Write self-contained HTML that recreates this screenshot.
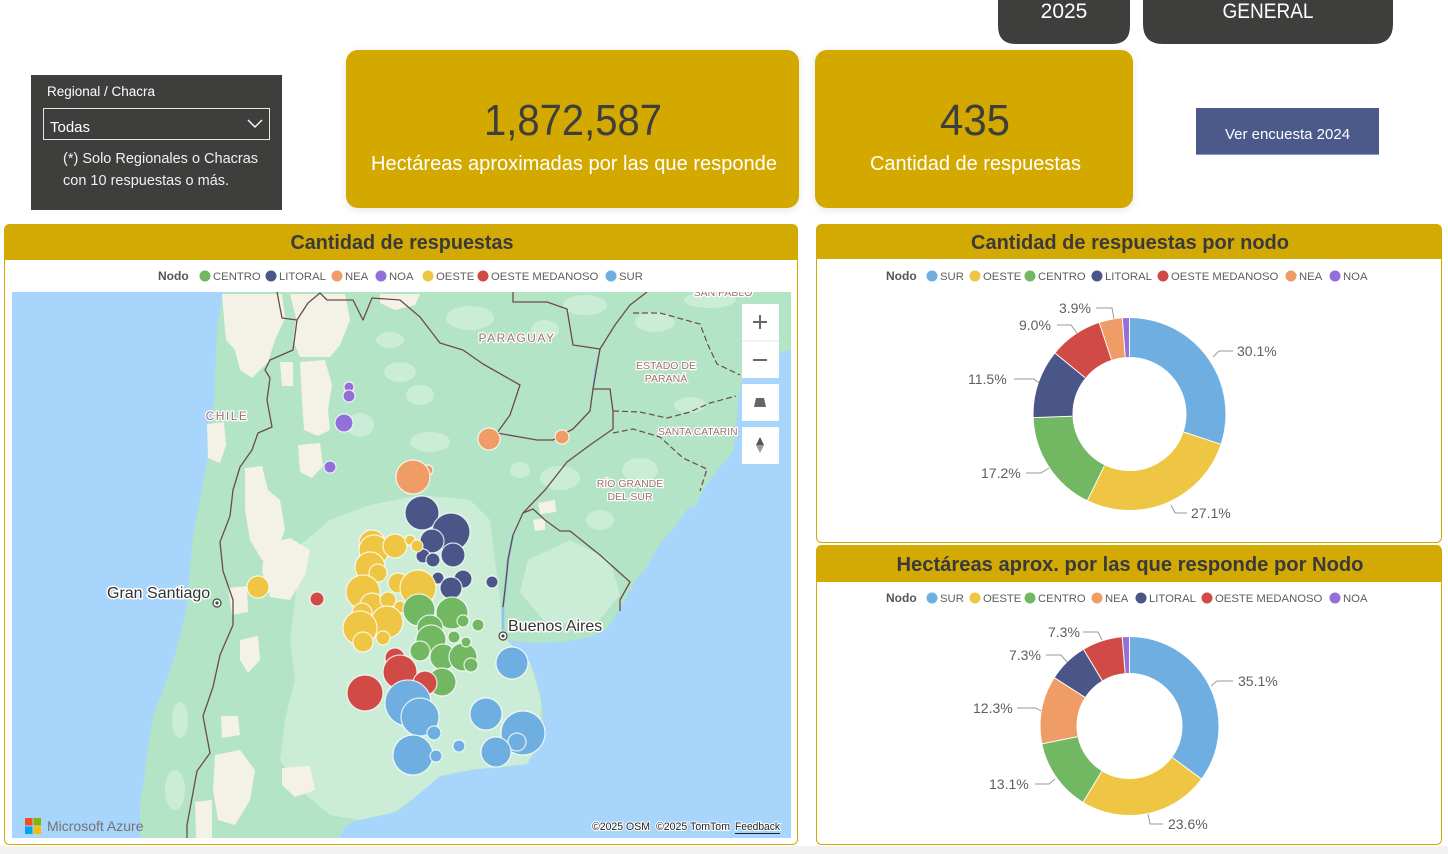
<!DOCTYPE html>
<html><head><meta charset="utf-8"><style>
html,body{margin:0;padding:0;background:#fff;width:1448px;height:854px;overflow:hidden}
svg{display:block}
text{font-family:"Liberation Sans",Arial,sans-serif}
</style></head><body>
<svg width="1448" height="854" viewBox="0 0 1448 854" xmlns="http://www.w3.org/2000/svg">
<defs>
<filter id="sh" x="-10%" y="-10%" width="120%" height="130%"><feDropShadow dx="0" dy="2" stdDeviation="4" flood-color="#000" flood-opacity="0.10"/></filter>
<clipPath id="mc"><rect x="12" y="292" width="779" height="546"/></clipPath>
</defs>
<rect width="1448" height="854" fill="#fff"/>
<rect x="0" y="846" width="1448" height="8" fill="#f2f2f2"/>

<!-- top buttons -->
<path d="M998,0 H1130 V26 Q1130,44 1112,44 H1016 Q998,44 998,26 Z" fill="#3E3E3D"/>
<text x="1064" y="18" font-size="21" fill="#fff" text-anchor="middle">2025</text>
<path d="M1143,0 H1393 V24 Q1393,44 1373,44 H1163 Q1143,44 1143,24 Z" fill="#3E3E3D"/>
<text x="1268" y="18" font-size="21" fill="#fff" text-anchor="middle" textLength="91" lengthAdjust="spacingAndGlyphs">GENERAL</text>

<!-- slicer -->
<rect x="31" y="75" width="251" height="135" fill="#3E3E3D"/>
<text x="47" y="96" font-size="13.5" fill="#fff">Regional / Chacra</text>
<rect x="43.5" y="108.5" width="226" height="31" fill="none" stroke="#e6e6e6" stroke-width="1"/>
<text x="50" y="132" font-size="15" fill="#fff">Todas</text>
<polyline points="248,120 255,127 262,120" fill="none" stroke="#fff" stroke-width="1.4"/>
<text x="63" y="163" font-size="14.5" fill="#f0f0f0">(*) Solo Regionales o Chacras</text>
<text x="63" y="185" font-size="14.5" fill="#f0f0f0">con 10 respuestas o más.</text>

<!-- cards -->
<rect x="346" y="50" width="453" height="158" rx="12" fill="#D3A904" filter="url(#sh)"/>
<text x="484" y="135" font-size="44" fill="#3E3E3D" textLength="178" lengthAdjust="spacingAndGlyphs">1,872,587</text>
<text x="371" y="170" font-size="20" fill="#fff" textLength="406" lengthAdjust="spacingAndGlyphs">Hectáreas aproximadas por las que responde</text>
<rect x="815" y="50" width="318" height="158" rx="12" fill="#D3A904" filter="url(#sh)"/>
<text x="940" y="135" font-size="44" fill="#3E3E3D" textLength="70" lengthAdjust="spacingAndGlyphs">435</text>
<text x="870" y="170" font-size="20" fill="#fff" textLength="211" lengthAdjust="spacingAndGlyphs">Cantidad de respuestas</text>

<!-- button -->
<rect x="1196" y="108" width="183" height="47" fill="#4B5A8B"/>
<line x1="1196" y1="154.5" x2="1379" y2="154.5" stroke="#8d98c2" stroke-width="1"/>
<text x="1287.5" y="139" font-size="15" fill="#fff" text-anchor="middle">Ver encuesta 2024</text>

<!-- ============ MAP PANEL ============ -->
<rect x="4.5" y="224.5" width="793" height="620" rx="5" fill="#fff" stroke="#D3A904" stroke-width="1"/>
<path d="M4.5,230 Q4.5,224.5 10,224.5 H792 Q797.5,224.5 797.5,230 V260 H4.5 Z" fill="#D3A904"/>
<text x="402" y="249" font-size="20" font-weight="bold" fill="#3A3A3A" text-anchor="middle" textLength="223" lengthAdjust="spacingAndGlyphs">Cantidad de respuestas</text>
<g font-size="11.3" fill="#605E5C">
<text x="158" y="280" font-weight="bold" font-size="12" fill="#555">Nodo</text>
<circle cx="205" cy="276" r="5.5" fill="#72B762"/><text x="213" y="280">CENTRO</text>
<circle cx="271" cy="276" r="5.5" fill="#4A5688"/><text x="279" y="280">LITORAL</text>
<circle cx="337" cy="276" r="5.5" fill="#F09C67"/><text x="345" y="280">NEA</text>
<circle cx="381" cy="276" r="5.5" fill="#9370D9"/><text x="389" y="280">NOA</text>
<circle cx="428" cy="276" r="5.5" fill="#EEC643"/><text x="436" y="280">OESTE</text>
<circle cx="483" cy="276" r="5.5" fill="#D04B45"/><text x="491" y="280">OESTE MEDANOSO</text>
<circle cx="611" cy="276" r="5.5" fill="#6FAEE0"/><text x="619" y="280">SUR</text>
</g>

<g clip-path="url(#mc)">
<rect x="12" y="292" width="779" height="546" fill="#A8D5FB"/>
<!-- land -->
<path fill="#B3E4C5" d="M223,292 L791,292 L791,349 L770,358 L752,370 L742,380 L738,400 L736,430 L733,452 L722,465 L713,476 L703,490 L693,512 L680,525 L667,535 L655,552 L647,567 L636,580 L630,590 L622,605 L615,617 L607,629 L590,637 L565,642 L535,643 L512,641 L503,639 L510,646 L520,652 L528,660 L533,670 L537,682 L541,697 L543,716 L541,735 L536,752 L527,764 L505,767 L480,769 L455,771 L440,775 L428,785 L415,797 L400,810 L380,816 L358,820 L345,826 L340,838 L140,838 L140,807 L144,780 L147,753 L150,735 L153,716 L163,690 L173,662 L180,635 L187,607 L190,570 L193,535 L200,498 L207,462 L213,425 L215,380 L217,330 L220,310 Z"/>
<!-- lighter pampas -->
<path fill="#CBEDD7" d="M300,545 L330,520 L370,505 L420,495 L470,500 L490,520 L495,560 L500,600 L503,636 L515,648 L530,662 L541,700 L540,740 L527,764 L470,770 L440,776 L415,797 L395,812 L360,820 L330,815 L300,790 L280,760 L285,720 L295,680 L290,640 L295,600 Z"/>
<path fill="#CBEDD7" d="M528,560 L570,540 L610,560 L620,595 L595,625 L545,622 L520,592 Z"/>
<g fill="#CBEDD7">
<ellipse cx="470" cy="318" rx="24" ry="12"/><ellipse cx="585" cy="305" rx="22" ry="10"/>
<ellipse cx="655" cy="322" rx="20" ry="10"/><ellipse cx="710" cy="300" rx="26" ry="8"/>
<ellipse cx="400" cy="372" rx="16" ry="10"/><ellipse cx="420" cy="395" rx="14" ry="10"/>
<ellipse cx="360" cy="425" rx="14" ry="12"/><ellipse cx="430" cy="442" rx="20" ry="10"/>
<ellipse cx="560" cy="478" rx="20" ry="12"/><ellipse cx="640" cy="470" rx="18" ry="12"/>
<ellipse cx="600" cy="520" rx="14" ry="10"/><ellipse cx="545" cy="330" rx="14" ry="10"/>
<ellipse cx="180" cy="720" rx="8" ry="18"/><ellipse cx="175" cy="790" rx="10" ry="20"/>
<ellipse cx="390" cy="340" rx="14" ry="8"/><ellipse cx="690" cy="405" rx="16" ry="8"/>
<ellipse cx="520" cy="470" rx="10" ry="8"/>
</g>
<!-- beige patches -->
<g fill="#F4F2E6">
<path d="M222,294 L282,294 L285,318 L275,340 L268,362 L252,378 L240,370 L235,350 L226,340 L224,318 Z"/>
<path d="M290,294 L345,294 L350,320 L340,345 L330,357 L300,357 L293,340 L296,318 Z"/>
<path d="M380,294 L420,294 L415,305 L395,310 L380,303 Z"/>
<path d="M300,362 L325,360 L332,385 L328,410 L330,430 L318,436 L304,430 L302,400 Z"/>
<path d="M280,362 L293,362 L293,386 L282,386 Z"/>
<path d="M298,445 L320,443 L323,466 L312,478 L300,472 Z"/>
<path d="M245,468 L262,466 L268,490 L280,500 L285,530 L275,555 L262,560 L250,540 L245,510 Z"/>
<path d="M265,545 L290,538 L310,550 L305,575 L290,600 L270,597 L262,572 Z"/>
<path d="M207,424 L224,422 L226,445 L220,463 L208,458 Z"/>
<path d="M228,588 L247,586 L248,612 L232,615 Z"/>
<path d="M240,640 L258,636 L260,660 L248,673 L240,660 Z"/>
<path d="M215,755 L240,750 L255,770 L250,800 L235,825 L218,820 L213,790 Z"/>
<path d="M282,768 L310,766 L315,790 L295,797 L282,785 Z"/>
<path d="M195,802 L212,800 L212,838 L196,838 Z"/>
<path d="M221,716 L238,716 L240,735 L222,738 Z"/>
<path d="M538,503 L555,500 L556,512 L540,514 Z"/>
<path d="M533,520 L545,518 L545,530 L535,531 Z"/>
</g>
<!-- lagoon & rivers -->
<path fill="#A8D5FB" d="M690,505 L680,520 L665,540 L650,565 L655,567 L670,545 L685,525 L694,510 Z"/>
<path d="M600,349 L595,370 L593,389" fill="none" stroke="#8cc4f5" stroke-width="1.5"/>
<path d="M513,535 L508,560 L507,571 L505,590 L503,607 L503,630" fill="none" stroke="#8cc4f5" stroke-width="2.5"/>
<!-- borders -->
<g fill="none" stroke="#6E4B4B" stroke-width="1.3" stroke-linejoin="round">
<path d="M277,292 L282,318 L297,320 L293,350 L270,360 L265,370 L270,378 L267,400 L272,427 L258,433 L252,450 L240,467 L233,490 L230,516 L220,542 L223,571 L233,600 L233,625 L220,655 L213,687 L203,716 L210,753 L197,771 L187,825 L187,838"/>
<path d="M297,320 L308,303 L320,293 L327,300 L353,300 L363,320 L372,298 L400,300 L420,317 L440,343 L463,350 L483,364 L520,385 L510,415 L497,433 L537,440 L553,440 L573,429 L590,411 L593,389 L600,349 L573,345 L567,309 L547,302 L513,302 L513,292"/>
<path d="M600,349 L615,325 L630,305 L647,292"/>
<path d="M593,389 L610,389 L613,411 L613,429 L590,445 L567,462 L545,490 L523,513 L513,535 L508,560 L507,571 L505,590 L503,607"/>
<path d="M523,513 L533,509 L545,520 L560,531 L570,531 L600,555 L630,582 L620,600 L620,611"/>
</g>
<g fill="none" stroke="#6E4B4B" stroke-width="1.2" stroke-dasharray="6 3">
<path d="M633,313 L660,313 L700,324 L708,345 L717,364 L740,375"/>
<path d="M613,411 L640,412 L667,418 L690,412 L710,403 L736,396"/>
<path d="M613,433 L633,429 L660,437 L683,458 L707,469 L700,491"/>
</g>
<!-- map labels -->
<g fill="#A0706F" stroke="#fff" stroke-width="2.5" paint-order="stroke" stroke-linejoin="round">
<text x="517" y="342" font-size="12" letter-spacing="1.5" text-anchor="middle">PARAGUAY</text>
<text x="227" y="420" font-size="12" letter-spacing="1.5" text-anchor="middle">CHILE</text>
<text x="666" y="369" font-size="10.5" text-anchor="middle">ESTADO DE</text>
<text x="666" y="382" font-size="10.5" text-anchor="middle">PARANÁ</text>
<text x="658" y="435" font-size="10.3">SANTA CATARIN</text>
<text x="630" y="487" font-size="10.5" text-anchor="middle">RÍO GRANDE</text>
<text x="630" y="500" font-size="10.5" text-anchor="middle">DEL SUR</text>
<text x="723" y="296" font-size="10.5" text-anchor="middle">SAN PABLO</text>
</g>
<!-- bubbles -->
<g stroke="#fff" stroke-opacity="0.8" stroke-width="1.2">
<g fill="#9370D9">
<circle cx="349" cy="387" r="5"/><circle cx="349" cy="396" r="6"/><circle cx="344" cy="423" r="9"/><circle cx="330" cy="467" r="6"/>
</g>
<g fill="#F09C67">
<circle cx="489" cy="439" r="11"/><circle cx="562" cy="437" r="7"/><circle cx="428" cy="470" r="5"/><circle cx="413" cy="477" r="17"/>
</g>
<g fill="#4A5688">
<circle cx="422" cy="513" r="17"/><circle cx="451" cy="532" r="19"/><circle cx="432" cy="541" r="12"/><circle cx="453" cy="555" r="12"/>
<circle cx="423" cy="556" r="7"/><circle cx="433" cy="560" r="7"/><circle cx="463" cy="579" r="9"/><circle cx="438" cy="578" r="6"/>
<circle cx="451" cy="588" r="11"/><circle cx="492" cy="582" r="6"/>
</g>
<g fill="#EEC643">
<circle cx="258" cy="587" r="11"/>
<circle cx="372" cy="543" r="13"/><circle cx="374" cy="550" r="15"/><circle cx="395" cy="546" r="12"/><circle cx="410" cy="540" r="5"/>
<circle cx="417" cy="546" r="6"/><circle cx="370" cy="567" r="15"/><circle cx="378" cy="573" r="9"/><circle cx="398" cy="583" r="10"/>
<circle cx="418" cy="588" r="18"/><circle cx="363" cy="592" r="17"/><circle cx="372" cy="605" r="12"/><circle cx="388" cy="600" r="8"/>
<circle cx="400" cy="607" r="6"/><circle cx="362" cy="613" r="10"/><circle cx="387" cy="622" r="16"/><circle cx="360" cy="628" r="17"/>
<circle cx="363" cy="642" r="10"/><circle cx="383" cy="638" r="7"/>
</g>
<g fill="#72B762">
<circle cx="419" cy="610" r="16"/><circle cx="452" cy="613" r="16"/><circle cx="463" cy="621" r="6"/><circle cx="478" cy="625" r="6"/>
<circle cx="430" cy="628" r="13"/><circle cx="431" cy="640" r="15"/><circle cx="454" cy="637" r="6"/><circle cx="420" cy="651" r="10"/>
<circle cx="443" cy="657" r="13"/><circle cx="463" cy="657" r="14"/><circle cx="466" cy="642" r="5"/><circle cx="471" cy="665" r="7"/>
<circle cx="442" cy="682" r="14"/>
</g>
<g fill="#D04B45">
<circle cx="317" cy="599" r="7"/><circle cx="395" cy="658" r="10"/><circle cx="400" cy="672" r="17"/><circle cx="425" cy="683" r="12"/><circle cx="365" cy="693" r="18"/>
</g>
<g fill="#6FAEE0">
<circle cx="408" cy="703" r="23"/><circle cx="420" cy="717" r="19"/><circle cx="434" cy="733" r="7"/><circle cx="413" cy="755" r="20"/>
<circle cx="436" cy="756" r="6"/><circle cx="459" cy="746" r="6"/><circle cx="486" cy="714" r="16"/><circle cx="512" cy="663" r="16"/>
<circle cx="523" cy="733" r="22"/><circle cx="517" cy="742" r="9"/><circle cx="496" cy="752" r="15"/>
</g>
</g>
<!-- city labels -->
<g fill="#333" stroke="#fff" stroke-width="3" paint-order="stroke" stroke-linejoin="round" font-size="16">
<text x="107" y="598">Gran Santiago</text>
<text x="508" y="631">Buenos Aires</text>
</g>
<circle cx="217" cy="603" r="4" fill="#fff" stroke="#444" stroke-width="1.2"/><circle cx="217" cy="603" r="1.6" fill="#444"/>
<circle cx="503" cy="636" r="4" fill="#fff" stroke="#444" stroke-width="1.2"/><circle cx="503" cy="636" r="1.6" fill="#444"/>
<!-- controls -->
<rect x="742" y="304" width="37" height="74" fill="#fff"/>
<line x1="742" y1="341" x2="779" y2="341" stroke="#e6e6e6"/>
<path d="M753,322 H767 M760,315 V329" stroke="#666" stroke-width="2"/>
<path d="M753,360 H767" stroke="#666" stroke-width="2"/>
<rect x="742" y="384" width="37" height="37" fill="#fff"/>
<path d="M754,407 L766,407 L764,398 L756,398 Z" fill="#666"/>
<rect x="742" y="427" width="37" height="37" fill="#fff"/>
<path d="M760,437 L764,445 L756,445 Z" fill="#555"/><path d="M760,453 L764,445 L756,445 Z" fill="#999"/>
<!-- attributions -->
<rect x="25" y="818" width="7.5" height="7.5" fill="#F25022"/><rect x="33.5" y="818" width="7.5" height="7.5" fill="#7FBA00"/>
<rect x="25" y="826.5" width="7.5" height="7.5" fill="#00A4EF"/><rect x="33.5" y="826.5" width="7.5" height="7.5" fill="#FFB900"/>
<text x="47" y="831" font-size="14" fill="#737373">Microsoft Azure</text>
<g font-size="11" fill="#222" stroke="#fff" stroke-width="2" paint-order="stroke">
<text x="592" y="830" textLength="58" lengthAdjust="spacingAndGlyphs">©2025 OSM</text>
<text x="656" y="830" textLength="74" lengthAdjust="spacingAndGlyphs">©2025 TomTom</text>
<text x="735" y="830" textLength="45" lengthAdjust="spacingAndGlyphs">Feedback</text>
</g>
<line x1="735" y1="833.5" x2="780" y2="833.5" stroke="#222" stroke-width="1"/>
</g>

<!-- ============ RIGHT PANEL 1 ============ -->
<rect x="816.5" y="224.5" width="625" height="318" rx="5" fill="#fff" stroke="#D3A904" stroke-width="1"/>
<path d="M816.5,230 Q816.5,224.5 822,224.5 H1436 Q1441.5,224.5 1441.5,230 V259 H816.5 Z" fill="#D3A904"/>
<text x="1130" y="249" font-size="20" font-weight="bold" fill="#3A3A3A" text-anchor="middle" textLength="318" lengthAdjust="spacingAndGlyphs">Cantidad de respuestas por nodo</text>
<g font-size="11.3" fill="#605E5C">
<text x="886" y="280" font-weight="bold" font-size="12" fill="#555">Nodo</text>
<circle cx="932" cy="276" r="5.5" fill="#6FAEE0"/><text x="940" y="280">SUR</text>
<circle cx="975" cy="276" r="5.5" fill="#EEC643"/><text x="983" y="280">OESTE</text>
<circle cx="1030" cy="276" r="5.5" fill="#72B762"/><text x="1038" y="280">CENTRO</text>
<circle cx="1097" cy="276" r="5.5" fill="#4A5688"/><text x="1105" y="280">LITORAL</text>
<circle cx="1163" cy="276" r="5.5" fill="#D04B45"/><text x="1171" y="280">OESTE MEDANOSO</text>
<circle cx="1291" cy="276" r="5.5" fill="#F09C67"/><text x="1299" y="280">NEA</text>
<circle cx="1335" cy="276" r="5.5" fill="#9370D9"/><text x="1343" y="280">NOA</text>
</g>
<g transform="rotate(-90 1129.5 414)" fill="none" stroke-width="39">
<circle cx="1129.5" cy="414" r="76.5" stroke="#6FAEE0" stroke-dasharray="144.68 480.66" stroke-dashoffset="0"/>
<circle cx="1129.5" cy="414" r="76.5" stroke="#EEC643" stroke-dasharray="130.26 480.66" stroke-dashoffset="-144.68"/>
<circle cx="1129.5" cy="414" r="76.5" stroke="#72B762" stroke-dasharray="82.67 480.66" stroke-dashoffset="-274.94"/>
<circle cx="1129.5" cy="414" r="76.5" stroke="#4A5688" stroke-dasharray="55.28 480.66" stroke-dashoffset="-357.61"/>
<circle cx="1129.5" cy="414" r="76.5" stroke="#D04B45" stroke-dasharray="43.26 480.66" stroke-dashoffset="-412.89"/>
<circle cx="1129.5" cy="414" r="76.5" stroke="#F09C67" stroke-dasharray="18.75 480.66" stroke-dashoffset="-456.15"/>
<circle cx="1129.5" cy="414" r="76.5" stroke="#9370D9" stroke-dasharray="5.77 480.66" stroke-dashoffset="-474.90"/>
</g>
<g stroke="#fff" stroke-width="1">
<line x1="1129.5" y1="356.5" x2="1129.5" y2="317.5"/>
<line x1="1184.1" y1="432.1" x2="1220.6" y2="444.2"/>
<line x1="1104.4" y1="465.7" x2="1087.5" y2="500.3"/>
<line x1="1072.0" y1="416.2" x2="1033.6" y2="417.6"/>
<line x1="1085.0" y1="377.6" x2="1055.2" y2="353.2"/>
<line x1="1111.4" y1="359.4" x2="1099.3" y2="322.9"/>
<line x1="1125.2" y1="356.7" x2="1122.3" y2="318.3"/>
</g>
<g fill="none" stroke="#9a9a9a" stroke-width="1">
<polyline points="1213,357 1219,351 1233,351"/>
<polyline points="1171,505 1175,513 1187,513"/>
<polyline points="1049,468 1041,473 1026,473"/>
<polyline points="1039,383 1034,379 1014,379"/>
<polyline points="1077,333 1071,325 1057,325"/>
<polyline points="1114,319 1112,308 1096,308"/>
</g>
<g font-size="14" fill="#605E5C">
<text x="1237" y="356">30.1%</text>
<text x="1191" y="518">27.1%</text>
<text x="981" y="478">17.2%</text>
<text x="968" y="384">11.5%</text>
<text x="1019" y="330">9.0%</text>
<text x="1059" y="313">3.9%</text>
</g>

<!-- ============ RIGHT PANEL 2 ============ -->
<rect x="816.5" y="545.5" width="625" height="299" rx="5" fill="#fff" stroke="#D3A904" stroke-width="1"/>
<path d="M816.5,551 Q816.5,545.5 822,545.5 H1436 Q1441.5,545.5 1441.5,551 V582 H816.5 Z" fill="#D3A904"/>
<text x="1130" y="571" font-size="20" font-weight="bold" fill="#3A3A3A" text-anchor="middle" textLength="467" lengthAdjust="spacingAndGlyphs">Hectáreas aprox. por las que responde por Nodo</text>
<g font-size="11.3" fill="#605E5C">
<text x="886" y="602" font-weight="bold" font-size="12" fill="#555">Nodo</text>
<circle cx="932" cy="598" r="5.5" fill="#6FAEE0"/><text x="940" y="602">SUR</text>
<circle cx="975" cy="598" r="5.5" fill="#EEC643"/><text x="983" y="602">OESTE</text>
<circle cx="1030" cy="598" r="5.5" fill="#72B762"/><text x="1038" y="602">CENTRO</text>
<circle cx="1097" cy="598" r="5.5" fill="#F09C67"/><text x="1105" y="602">NEA</text>
<circle cx="1141" cy="598" r="5.5" fill="#4A5688"/><text x="1149" y="602">LITORAL</text>
<circle cx="1207" cy="598" r="5.5" fill="#D04B45"/><text x="1215" y="602">OESTE MEDANOSO</text>
<circle cx="1335" cy="598" r="5.5" fill="#9370D9"/><text x="1343" y="602">NOA</text>
</g>
<g transform="rotate(-90 1129.5 726)" fill="none" stroke-width="36">
<circle cx="1129.5" cy="726" r="71" stroke="#6FAEE0" stroke-dasharray="156.59 446.11" stroke-dashoffset="0"/>
<circle cx="1129.5" cy="726" r="71" stroke="#EEC643" stroke-dasharray="105.28 446.11" stroke-dashoffset="-156.59"/>
<circle cx="1129.5" cy="726" r="71" stroke="#72B762" stroke-dasharray="58.44 446.11" stroke-dashoffset="-261.87"/>
<circle cx="1129.5" cy="726" r="71" stroke="#F09C67" stroke-dasharray="54.87 446.11" stroke-dashoffset="-320.31"/>
<circle cx="1129.5" cy="726" r="71" stroke="#4A5688" stroke-dasharray="32.57 446.11" stroke-dashoffset="-375.18"/>
<circle cx="1129.5" cy="726" r="71" stroke="#D04B45" stroke-dasharray="32.57 446.11" stroke-dashoffset="-407.75"/>
<circle cx="1129.5" cy="726" r="71" stroke="#9370D9" stroke-dasharray="5.80 446.11" stroke-dashoffset="-440.32"/>
</g>
<g stroke="#fff" stroke-width="1">
<line x1="1129.5" y1="673" x2="1129.5" y2="636.5"/>
<line x1="1172.2" y1="757.4" x2="1201.2" y2="778.8"/>
<line x1="1101.9" y1="771.3" x2="1083.2" y2="802.0"/>
<line x1="1077.6" y1="736.6" x2="1042.3" y2="743.8"/>
<line x1="1084.9" y1="697.3" x2="1054.7" y2="677.9"/>
<line x1="1102.2" y1="680.6" x2="1083.7" y2="649.7"/>
<line x1="1125.2" y1="673.2" x2="1122.2" y2="637.3"/>
</g>
<g fill="none" stroke="#9a9a9a" stroke-width="1">
<polyline points="1211,686 1217,681 1233,681"/>
<polyline points="1148,814 1150,824 1163,824"/>
<polyline points="1055,779 1049,784 1035,784"/>
<polyline points="1041,711 1036,708 1017,708"/>
<polyline points="1067,662 1061,655 1046,655"/>
<polyline points="1102,640 1098,632 1083,632"/>
</g>
<g font-size="14" fill="#605E5C">
<text x="1238" y="686">35.1%</text>
<text x="1168" y="829">23.6%</text>
<text x="989" y="789">13.1%</text>
<text x="973" y="713">12.3%</text>
<text x="1009" y="660">7.3%</text>
<text x="1048" y="637">7.3%</text>
</g>
</svg>
</body></html>
